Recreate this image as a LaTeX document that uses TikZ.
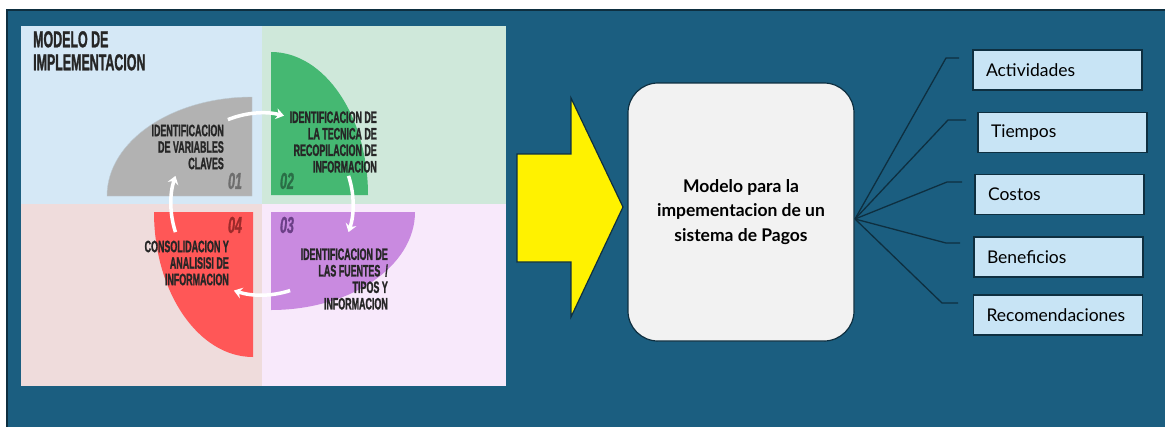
\documentclass[tikz,border=0pt]{standalone}
\usepackage{fontspec}
\setmainfont{Lato}
\newfontfamily\condfont[FakeStretch=0.54,FakeBold=1.2]{Liberation Sans}
\usetikzlibrary{positioning,arrows.meta}

\definecolor{bgblue}{HTML}{1B5E80}
\definecolor{bgline}{HTML}{0E2F40}
\definecolor{qblue}{HTML}{D5E8F6}
\definecolor{qgreen}{HTML}{CFE8DA}
\definecolor{qpink}{HTML}{EFDCDC}
\definecolor{qlilac}{HTML}{F8E9FB}
\definecolor{pgray}{HTML}{B2B2B2}
\definecolor{pgreen}{HTML}{45B872}
\definecolor{pred}{HTML}{FF5757}
\definecolor{ppurple}{HTML}{C98AE0}
\definecolor{ngray}{HTML}{6E6E6E}
\definecolor{ngreen}{HTML}{2A6E46}
\definecolor{nred}{HTML}{9C2A2A}
\definecolor{npurple}{HTML}{6B3F87}
\definecolor{itemfill}{HTML}{C8E4F5}
\definecolor{boxfill}{HTML}{F2F2F2}

\begin{document}
\begin{tikzpicture}[x=1pt,y=1pt,
  quadtext/.style={align=right,inner sep=0pt,text=black!85,
    font=\condfont\bfseries\fontsize{16.5}{16.5}\selectfont},
  numtext/.style={inner sep=0pt,font=\condfont\bfseries\itshape\fontsize{23}{23}\selectfont},
  cyc/.style={white,line width=3.5pt,-{Stealth[length=8pt,width=11pt]}},
  modelbox/.style={draw=bgline,line width=1.2pt,fill=boxfill,rounded corners=30pt,
    minimum width=226pt,minimum height=258pt,align=center,
    font=\bfseries\fontsize{17.5}{24.5}\selectfont},
  itembox/.style={draw=bgline,line width=1.5pt,fill=itemfill,minimum height=40pt,
    text width=143pt,inner xsep=13pt,align=left,font=\fontsize{17.5}{20}\selectfont},
  spoke/.style={draw=bgline,line width=1.3pt}]
  \useasboundingbox (0,0) rectangle (1165,-426);

  % background
  \draw[fill=bgblue,draw=bgline,line width=2pt] (7,-10) rectangle (1170,-430);

  % quadrants
  \fill[qblue] (21,-26) rectangle (262,-204);
  \fill[qgreen] (262,-26) rectangle (506,-204);
  \fill[qpink] (21,-204) rectangle (262,-386);
  \fill[qlilac] (262,-204) rectangle (506,-386);

  % quarter shapes
  \draw[fill=pgray,draw=qblue!70!gray] (252,-196) -- (107,-196)
    arc[start angle=180,end angle=90,x radius=145,y radius=99] -- cycle;
  \fill[pgreen] (271,-195) -- (271,-52)
    arc[start angle=90,end angle=0,x radius=97,y radius=143] -- cycle;
  \fill[ppurple] (271,-212) -- (415,-212)
    arc[start angle=0,end angle=-90,x radius=144,y radius=98] -- cycle;
  \fill[pred] (253,-212) -- (253,-357)
    arc[start angle=-90,end angle=-180,x radius=99,y radius=145] -- cycle;

  \node[anchor=north west,align=left,inner sep=0pt,text=black!85,
    font=\condfont\bfseries\fontsize{23}{23}\selectfont] (title) at (33,-31)
    {MODELO DE\\IMPLEMENTACION};

  \node[numtext,text=ngray] (n1) at (235,-181) {01};
  \node[numtext,text=ngreen] (n2) at (287,-181) {02};
  \node[numtext,text=npurple] (n3) at (287,-225) {03};
  \node[numtext,text=nred] (n4) at (235,-225) {04};

  \node[quadtext,anchor=east] (s1) at (224,-147) {IDENTIFICACION\\DE VARIABLES\\CLAVES};
  \node[quadtext,anchor=east] (s2) at (377,-142) {IDENTIFICACION DE\\LA TECNICA DE\\RECOPILACION DE\\INFORMACION};
  \node[quadtext,anchor=east] (s3) at (388,-279) {IDENTIFICACION DE\\LAS FUENTES \ /\\TIPOS Y\\INFORMACION};
  \node[quadtext,anchor=east] (s4) at (229,-263) {CONSOLIDACION Y\\ANALISISI DE\\INFORMACION};

  % cycle arrows
  \coordinate (mid) at (262,-204);
  \draw[cyc] ([shift={(112:91)}]mid) arc[start angle=112,end angle=76,radius=91];
  \draw[cyc] ([shift={(18:91)}]mid) arc[start angle=18,end angle=-18,radius=91];
  \draw[cyc] ([shift={(-72:91)}]mid) arc[start angle=-72,end angle=-108,radius=91];
  \draw[cyc] ([shift={(198:91)}]mid) arc[start angle=198,end angle=162,radius=91];

  % big arrow
  \draw[fill=yellow,draw=bgline,line width=1.2pt] (517,-154) -- (571,-154) -- (571,-98)
    -- (623,-207) -- (571,-317) -- (571,-262) -- (517,-262) -- cycle;

  \node[modelbox] (model) at (741,-212) {Modelo para la\\impementacion de un\\sistema de Pagos};

  \node[itembox] (act) at (1057.5,-70) {Actividades};
  \node[itembox] (tie) at (1062.5,-132.5) {Tiempos};
  \node[itembox] (cos) at (1059.5,-194.5) {Costos};
  \node[itembox] (ben) at (1058.5,-257) {Beneficios};
  \node[itembox] (rec) at (1058,-315) {Recomendaciones};

  \coordinate (hub) at (855,-219);
  \coordinate (k1) at (946,-58);  \coordinate (e1) at (959,-58);
  \coordinate (k2) at (948,-120); \coordinate (e2) at (966,-120);
  \coordinate (k3) at (947,-182); \coordinate (e3) at (962,-182);
  \coordinate (k4) at (946,-243); \coordinate (e4) at (960,-243);
  \coordinate (k5) at (942,-303); \coordinate (e5) at (958,-303);

  \draw[spoke] (hub) -- (k1) -- (e1);
  \draw[spoke] (hub) -- (k2) -- (e2);
  \draw[spoke] (hub) -- (k3) -- (e3);
  \draw[spoke] (hub) -- (k4) -- (e4);
  \draw[spoke] (hub) -- (k5) -- (e5);

\end{tikzpicture}
\end{document}
